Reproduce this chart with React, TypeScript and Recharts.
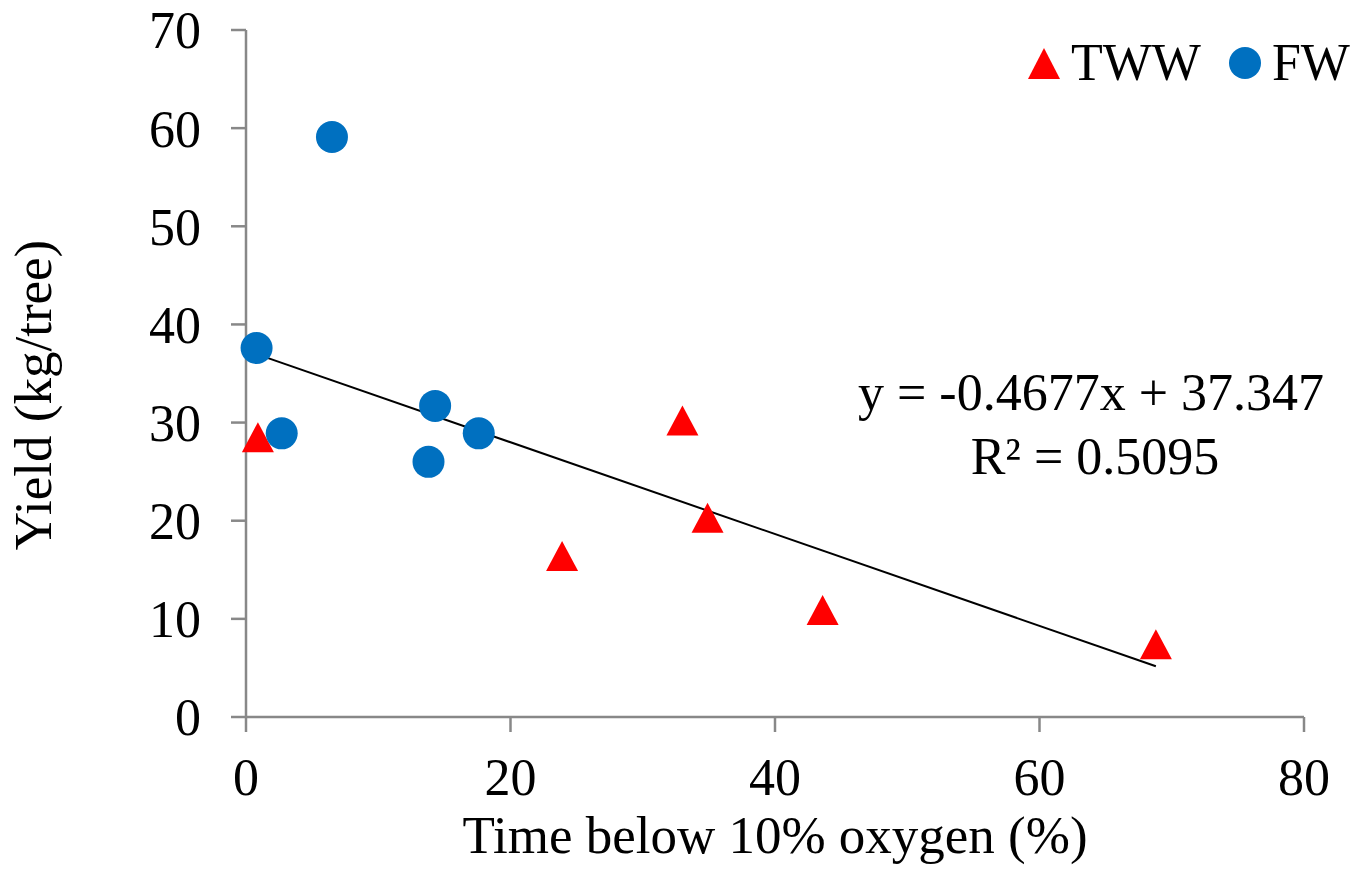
import { ScatterChart, Scatter, XAxis, YAxis, ReferenceLine, Legend, Customized } from "recharts";

const twwX = [0.9, 23.9, 33.0, 34.9, 43.6, 68.8];
const twwY = [28.5, 16.4, 30.2, 20.3, 10.9, 7.4];
const fwX = [6.5, 0.8, 2.7, 14.3, 13.8, 17.6];
const fwY = [59.1, 37.6, 28.9, 31.7, 26.0, 28.9];
const xTicks = [0, 20, 40, 60, 80];
const yTicks = [0, 10, 20, 30, 40, 50, 60, 70];
const trendSlope = -0.4677;
const trendIntercept = 37.347;
const rSquared = 0.5095;

const FONT = "'Liberation Serif', 'Times New Roman', serif";
const RED = "#FF0000";
const BLUE = "#0070C0";
const AXIS = "#888888";

const twwData = twwX.map((x, i) => ({ x, y: twwY[i] }));
const fwData = fwX.map((x, i) => ({ x, y: fwY[i] }));

const allX = [...twwX, ...fwX];
const xMin = Math.min(...allX);
const xMax = Math.max(...allX);
const trend = (x: number) => trendSlope * x + trendIntercept;

const Triangle = (props: any) => {
  const { cx, cy } = props;
  return <polygon points={`${cx},${cy - 15} ${cx + 16},${cy + 15} ${cx - 16},${cy + 15}`} fill={RED} />;
};

const Dot = (props: any) => {
  const { cx, cy } = props;
  return <circle cx={cx} cy={cy} r={16} fill={BLUE} />;
};

const LegendContent = () => (
  <div style={{ display: "flex", alignItems: "center", fontSize: 52, fontFamily: FONT, lineHeight: 1, color: "#000" }}>
    <svg width={32} height={32} style={{ display: "block" }}>
      <polygon points="16,1 32,32 0,32" fill={RED} />
    </svg>
    <span style={{ marginLeft: 11 }}>TWW</span>
    <svg width={32} height={32} style={{ display: "block", marginLeft: 28 }}>
      <circle cx={16} cy={16} r={16} fill={BLUE} />
    </svg>
    <span style={{ marginLeft: 11 }}>FW</span>
  </div>
);

const Equation = () => (
  <g fontFamily={FONT} fontSize={52} fill="#000">
    <text x={1091} y={410} textAnchor="middle">{`y = ${trendSlope}x + ${trendIntercept}`}</text>
    <text x={1095} y={474} textAnchor="middle">{`R² = ${rSquared}`}</text>
  </g>
);

export default function App() {
  const axisStyle = { stroke: AXIS, strokeWidth: 2.5 };
  return (
    <div style={{ position: "absolute", left: 0, top: 0, background: "#fff" }}>
      <ScatterChart width={1355} height={880} margin={{ top: 30, right: 51, bottom: 0, left: 0 }} style={{ fontFamily: FONT }}>
        <XAxis
          type="number"
          dataKey="x"
          domain={[0, 80]}
          ticks={xTicks}
          height={163}
          axisLine={axisStyle}
          tickLine={axisStyle}
          tickSize={15}
          tickMargin={26}
          tick={{ fill: "#000", fontSize: 52, fontFamily: FONT }}
          label={{
            content: () => (
              <text x={775} y={853} textAnchor="middle" fontFamily={FONT} fontSize={53} fill="#000">
                Time below 10% oxygen (%)
              </text>
            ),
          }}
        />
        <YAxis
          type="number"
          dataKey="y"
          domain={[0, 70]}
          ticks={yTicks}
          width={246}
          axisLine={axisStyle}
          tickLine={axisStyle}
          tickSize={15}
          tickMargin={30}
          tick={{ fill: "#000", fontSize: 52, fontFamily: FONT }}
          label={{
            content: () => (
              <text x={51} y={395} transform="rotate(-90 51 395)" textAnchor="middle" fontFamily={FONT} fontSize={53} fill="#000">
                Yield (kg/tree)
              </text>
            ),
          }}
        />
        <Scatter name="TWW" data={twwData} shape={Triangle} isAnimationActive={false} />
        <Scatter name="FW" data={fwData} shape={Dot} isAnimationActive={false} />
        <ReferenceLine
          segment={[
            { x: xMin, y: trend(xMin) },
            { x: xMax, y: trend(xMax) },
          ]}
          stroke="#000"
          strokeWidth={2}
        />
        <Legend
          layout="horizontal"
          verticalAlign="middle"
          align="center"
          content={LegendContent}
          wrapperStyle={{ top: 37, left: 1028, width: "auto" }}
        />
        <Customized component={Equation} />
      </ScatterChart>
    </div>
  );
}
